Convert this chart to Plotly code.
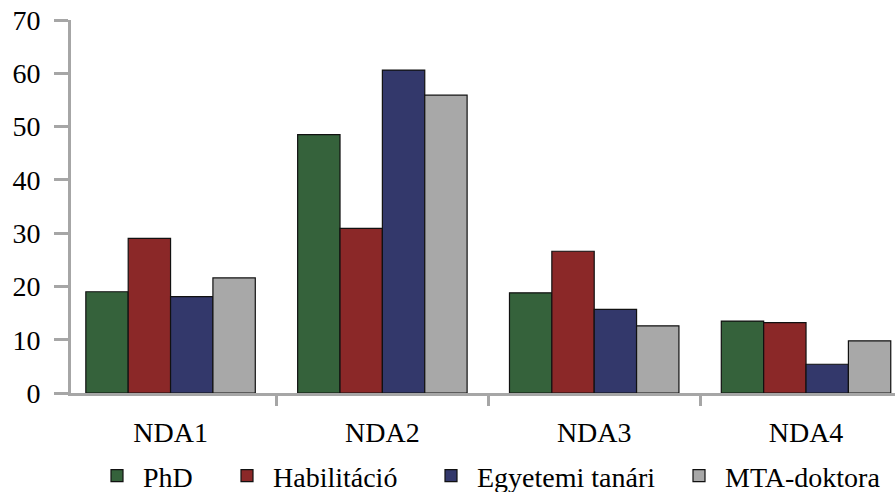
import plotly.graph_objects as go

categories = ["NDA1", "NDA2", "NDA3", "NDA4"]
series_names = ["PhD", "Habilitáció", "Egyetemi tanári", "MTA-doktora"]
phd = [19.0, 48.5, 18.8, 13.5]
habilitacio = [29.0, 30.9, 26.6, 13.2]
egyetemi = [18.1, 60.6, 15.7, 5.4]
mta = [21.6, 55.9, 12.6, 9.8]
colors = ["#35623B", "#8B2828", "#33386B", "#A8A8A8"]

font = "Liberation Serif"
axis_gray = "#A6A6A6"
W, H = 895, 492
# one single-entry legend per series, left edge in page pixels
legend_left_px = [91, 221, 425, 673]
legend_ids = ["legend", "legend2", "legend3", "legend4"]
legend_center_y = 476

fig = go.Figure()
for name, vals, col, lid in zip(series_names, [phd, habilitacio, egyetemi, mta], colors, legend_ids):
    fig.add_trace(go.Bar(
        x=categories, y=vals, name=name, legend=lid,
        marker=dict(color=col, line=dict(color="#111111", width=1.2)),
    ))

legend_layouts = {}
for lid, px in zip(legend_ids, legend_left_px):
    legend_layouts[lid] = dict(
        xref="container", yref="container",
        x=px / W, xanchor="left", y=(H - legend_center_y) / H, yanchor="middle",
        orientation="h", itemwidth=42, bgcolor="rgba(0,0,0,0)",
        font=dict(family=font, size=28, color="#000000"),
    )

fig.update_layout(
    width=W, height=H,
    margin=dict(l=71, r=0, t=20, b=99),
    paper_bgcolor="white", plot_bgcolor="white",
    barmode="group", bargap=0.2, bargroupgap=0,
    font=dict(family=font, size=28, color="#000000"),
    showlegend=True,
    xaxis=dict(
        type="category", range=[-0.47, 3.42], automargin=False,
        showline=True, linecolor=axis_gray, linewidth=3,
        ticks="outside", tickson="boundaries", ticklen=10, tickwidth=3, tickcolor=axis_gray,
        showgrid=False, ticklabelstandoff=12,
        tickfont=dict(family=font, size=28),
    ),
    yaxis=dict(
        range=[0, 70], dtick=10, automargin=False,
        showline=True, linecolor=axis_gray, linewidth=3,
        ticks="outside", ticklen=14, tickwidth=3, tickcolor=axis_gray,
        showgrid=False, zeroline=False, ticklabelstandoff=8,
        tickfont=dict(family=font, size=28),
    ),
    **legend_layouts,
)

fig.write_html(
    "out.html",
    config={"displayModeBar": False},
    post_script="document.body.style.margin='0';document.body.style.overflow='hidden';",
)
